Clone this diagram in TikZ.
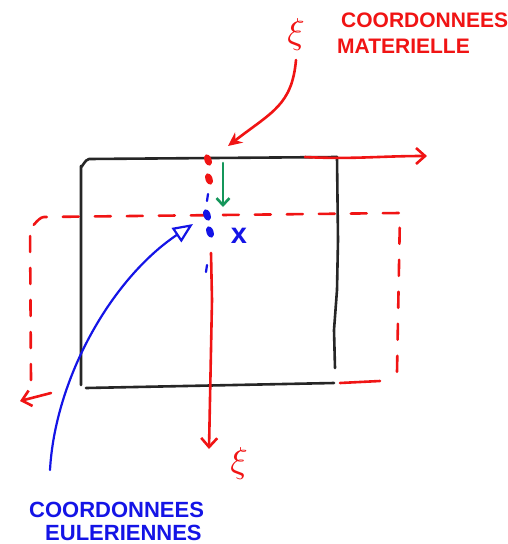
\documentclass[tikz,border=0pt]{standalone}
\usepackage{fontspec}
\setsansfont{Liberation Sans}
\usetikzlibrary{arrows.meta,shapes.geometric}
\definecolor{pen red}{RGB}{240,20,20}
\definecolor{pen blue}{RGB}{20,20,230}
\definecolor{pen green}{RGB}{20,150,90}
\tikzset{
  pen/.style={line width=2.6pt, line cap=round, line join=round},
  blackpen/.style={pen, black!85},
  redpen/.style={pen, pen red},
  bluepen/.style={pen, pen blue, line width=2.2pt},
  greenpen/.style={pen, pen green},
  reddash/.style={redpen, dash pattern=on 16pt off 16pt},
  dotmark/.style={ellipse, inner sep=0pt, minimum width=7pt, minimum height=12pt, rotate=20},
  redlabel/.style={text=pen red, font=\sffamily\bfseries\fontsize{21}{22}\selectfont, inner sep=0pt},
  bluelabel/.style={text=pen blue, font=\sffamily\bfseries\fontsize{22}{23}\selectfont, inner sep=0pt},
  xilabel/.style={text=pen red, inner sep=0pt},
  barb/.style={-{Straight Barb[length=9pt,width=16pt]}},
}
\begin{document}
\begin{tikzpicture}[x=1pt,y=-1pt]
\useasboundingbox (0,0) rectangle (508,544);
% black solid rectangle
\coordinate (bl) at (81,385);
\coordinate (tl) at (81,166);
\coordinate (tr) at (337,157);
\coordinate (br) at (335,368);
\draw[blackpen] (bl) -- (tl) to[out=-90,in=180] (89,159) -- (tr);
\draw[blackpen] (tr) -- (338,240) -- (337,290) -- (334,330) -- (br);
\draw[blackpen] (86,388) -- (334,383);
% red top axis arrow
\coordinate (ha) at (305,157);
\coordinate (hb) at (427,156);
\draw[redpen, barb] (ha) to[out=-3,in=180] (hb);
% red dashed rectangle
\coordinate (d1) at (31,380);
\coordinate (d2) at (30,226);
\coordinate (d3) at (44,217);
\coordinate (d4) at (400,213);
\coordinate (d5) at (397,372);
\draw[reddash] (d1) -- (d2) to[out=-90,in=180] (d3) -- (d4) -- (d5);
\coordinate (e1) at (340,383);
\coordinate (e2) at (380,381);
\draw[redpen] (e1) -- (e2);
\coordinate (f1) at (51,393);
\coordinate (f2) at (20,401);
\draw[redpen, barb] (f1) -- (f2);
% vertical axis (material)
\node[dotmark, fill=pen red] (r1) at (208,160) {};
\node[dotmark, fill=pen red] (r2) at (209,179) {};
\coordinate (s1) at (208,194);
\coordinate (s2) at (207,201);
\draw[bluepen] (s1) -- (s2);
\node[dotmark, fill=pen blue] (b1) at (207,215) {};
\node[dotmark, fill=pen blue] (b2) at (210,232) {};
\coordinate (s3) at (207,265);
\coordinate (s4) at (206,272);
\draw[bluepen] (s3) -- (s4);
\coordinate (v1) at (211,253);
\coordinate (v2) at (209,449);
\draw[redpen, barb] (v1) -- (212,300) -- (v2);
\node[xilabel] (xib) at (239,463) {\scalebox{3.6}{$\xi$}};
\node[xilabel] (xit) at (296,34) {\scalebox{3.6}{$\xi$}};
% red arrow from top label
\coordinate (t1) at (296,60);
\coordinate (t2) at (228,146);
\draw[redpen, -{Stealth[length=14pt,width=13pt]}] (t1) .. controls (292,105) and (272,112) .. (t2);
% green displacement arrow
\coordinate (g1) at (223,163);
\coordinate (g2) at (223,207);
\draw[greenpen, -{Straight Barb[length=7pt,width=13pt]}] (g1) -- (g2);
% blue x
\node[text=pen blue, inner sep=0pt] (xx) at (239,236) {\sffamily\bfseries\scalebox{2.9}{x}};
% blue curve to eulerian point
\coordinate (c1) at (50,470);
\coordinate (c2) at (193,224);
\draw[bluepen, -{Triangle[open,length=20pt,width=17pt]}] (c1) .. controls (55,380) and (110,280) .. (c2);
% labels
\node[redlabel, anchor=west] (lm1) at (341,20) {COORDONNEES};
\node[redlabel, anchor=west] (lm2) at (337,46) {MATERIELLE};
\node[bluelabel, anchor=west] (le1) at (29,510) {COORDONNEES};
\node[bluelabel, anchor=west] (le2) at (45,533) {EULERIENNES};
\end{tikzpicture}
\end{document}
